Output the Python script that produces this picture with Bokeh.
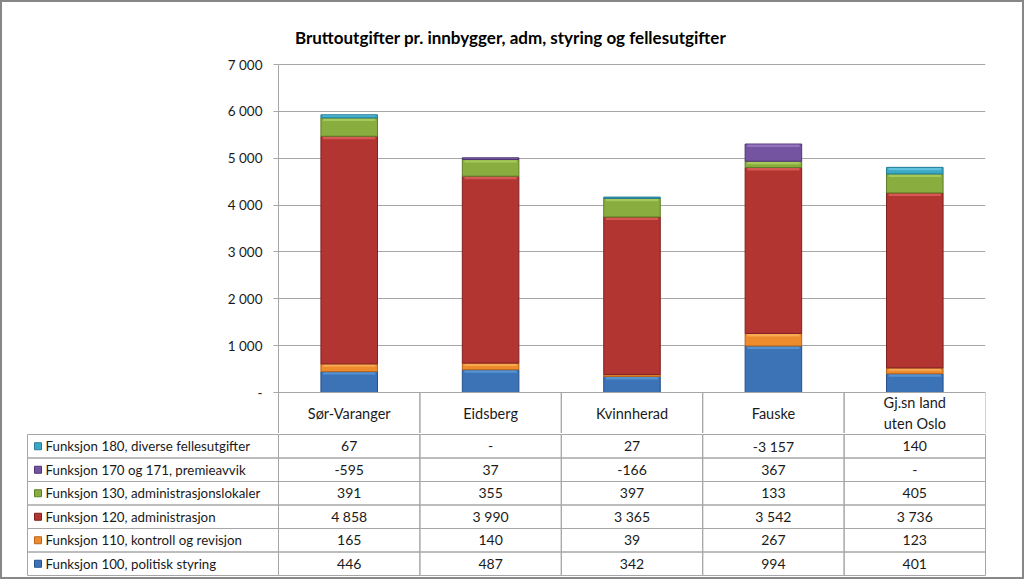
import numpy as np
from bokeh.plotting import figure
from bokeh.models import Range1d, FactorRange, FixedTicker, ColumnDataSource
from bokeh.transform import dodge
from bokeh.layouts import column
from bokeh.embed import file_html
from bokeh.resources import INLINE
from bokeh.core.properties import value

# ---------------- data ----------------
title = "Bruttoutgifter pr. innbygger, adm, styring og fellesutgifter"
categories = ["Sør-Varanger", "Eidsberg", "Kvinnherad", "Fauske", "Gj.sn land\nuten Oslo"]
series_names = [
    "Funksjon 100, politisk styring",
    "Funksjon 110, kontroll og revisjon",
    "Funksjon 120, administrasjon",
    "Funksjon 130, administrasjonslokaler",
    "Funksjon 170 og 171, premieavvik",
    "Funksjon 180, diverse fellesutgifter",
]
f100 = [446, 487, 342, 994, 401]
f110 = [165, 140, 39, 267, 123]
f120 = [4858, 3990, 3365, 3542, 3736]
f130 = [391, 355, 397, 133, 405]
f170 = [-595, 37, -166, 367, 0]
f180 = [67, 0, 27, -3157, 140]
y_ticks = [0, 1000, 2000, 3000, 4000, 5000, 6000, 7000]

all_series = [f100, f110, f120, f130, f170, f180]
fills = ["#3b73b6", "#ee8b2c", "#b23532", "#8aad3f", "#7453a0", "#3ba8c6"]
lights = ["#5b9ad8", "#f9b15c", "#e0605a", "#aed060", "#9a7cc4", "#6cc8e0"]
edges = ["#24508a", "#b8651a", "#7e2220", "#5f7d27", "#4f3573", "#247d96"]

FONT = "Lato"
GRID = "#a6a6a6"
TXT = "#1a1a1a"

# ---------------- layout (pixels) ----------------
W = 1020
A_H = 431
A_LEFT, A_RIGHT = 276, 37
TOP_PX = 62.0              # space above the 7 000 line
PLOT_PX = 328.0            # 0..7000
HDR_PX = 41.0
frame_w = W - A_LEFT - A_RIGHT
cat_px = frame_w / len(categories)
ppu = PLOT_PX / 7000.0
hdr = HDR_PX / ppu

# ---------------- chart ----------------
pA = figure(width=W, height=A_H,
            x_range=FactorRange(*categories, range_padding=0),
            y_range=Range1d(-hdr, 7000 + TOP_PX / ppu),
            output_backend="svg", toolbar_location=None,
            min_border_left=A_LEFT, min_border_right=A_RIGHT,
            min_border_top=0, min_border_bottom=0)
pA.frame_align = False
pA.xaxis.visible = False
pA.xgrid.visible = False
pA.outline_line_color = None
pA.background_fill_color = "white"
pA.border_fill_color = "white"

pA.ygrid.ticker = FixedTicker(ticks=y_ticks)
pA.ygrid.grid_line_color = GRID
pA.yaxis.ticker = FixedTicker(ticks=y_ticks)
pA.yaxis.bounds = (-hdr, 7000)
pA.yaxis.major_label_overrides = {t: ("-" if t == 0 else f"{t:,}".replace(",", " ")) for t in y_ticks}
pA.yaxis.axis_line_color = GRID
pA.yaxis.major_tick_line_color = GRID
pA.yaxis.major_tick_out = 5
pA.yaxis.major_tick_in = 0
pA.yaxis.minor_tick_line_color = None
pA.yaxis.major_label_standoff = 11
pA.yaxis.major_label_text_font = FONT
pA.yaxis.major_label_text_font_size = "13.5px"
pA.yaxis.major_label_text_color = TXT

# stacked bars (positives stack upward, negatives fall below axis minimum 0)
band = 3.0 / ppu
pos = np.zeros(len(categories))
for k, vals in enumerate(all_series):
    v = np.array(vals, dtype=float)
    bottoms = pos.copy()
    tops = pos + np.where(v > 0, v, 0)
    pos = tops
    keep = v > 0
    xs = [c for c, m in zip(categories, keep) if m]
    src = ColumnDataSource(dict(x=xs, bottom=bottoms[keep], top=tops[keep]))
    pA.vbar(x="x", bottom="bottom", top="top", width=0.4, source=src,
            fill_color=fills[k], line_color=edges[k], line_width=1)
    # bevel highlight along the top of each segment
    hb = np.maximum(tops[keep] - np.minimum(band, (tops[keep] - bottoms[keep]) * 0.5), bottoms[keep])
    hsrc = ColumnDataSource(dict(x=xs, bottom=hb, top=tops[keep] - 0.6 / ppu))
    pA.vbar(x="x", bottom="bottom", top="top", width=0.37, source=hsrc,
            fill_color=lights[k], fill_alpha=0.8, line_color=None)

# header row (category names)
pA.rect(x=categories, y=-hdr / 2, width=1, height=hdr,
        fill_color=None, line_color=GRID, line_width=1)
pA.text(x=categories, y=[-hdr / 2] * len(categories), text=categories,
        text_align="center", text_baseline="middle",
        text_font=value(FONT), text_font_size="14.5px", text_color=TXT)

# chart title
title_center = (508 - A_LEFT) / cat_px          # synthetic x of title centre
anchor = int(title_center)
tsrc = ColumnDataSource(dict(x=[categories[anchor]], y=[7000 + 27 / ppu], t=[title]))
pA.text(x=dodge("x", title_center - (anchor + 0.5), range=pA.x_range), y="y", text="t",
        source=tsrc, text_align="center", text_baseline="middle",
        text_font=value(FONT), text_font_size="17px", text_font_style="bold",
        text_color="#000000")

# ---------------- table ----------------
B_H = 144
B_LEFT, B_RIGHT = 24, 36
LBL_PX = 251.0
lbl = LBL_PX / cat_px
nrows = len(series_names)
row_px = (B_H - 3) / nrows
xpad = 1.0 / cat_px

pB = figure(width=W, height=B_H,
            x_range=Range1d(-lbl - xpad, len(categories) + xpad),
            y_range=Range1d(-2.0 / row_px, nrows + 1.0 / row_px),
            output_backend="svg", toolbar_location=None,
            x_axis_location=None, y_axis_location=None,
            min_border_left=B_LEFT, min_border_right=B_RIGHT,
            min_border_top=0, min_border_bottom=0)
pB.frame_align = False
pB.grid.visible = False
pB.outline_line_color = None
pB.background_fill_color = "white"
pB.border_fill_color = "white"

def fmt(v):
    if v == 0:
        return "-"
    return f"{v:,}".replace(",", " ")

cx, cy, ct = [], [], []
for j, vals in enumerate(all_series):
    for i, v in enumerate(vals):
        cx.append(i + 0.5)
        cy.append(j + 0.5)
        ct.append(fmt(v))
pB.rect(x=cx, y=cy, width=1, height=1, fill_color=None, line_color=GRID, line_width=1)
pB.text(x=cx, y=cy, text=ct, text_align="center", text_baseline="middle",
        text_font=value(FONT), text_font_size="14px", text_color=TXT)

ry = [j + 0.5 for j in range(nrows)]
pB.rect(x=[-lbl / 2] * nrows, y=ry, width=lbl, height=1,
        fill_color=None, line_color=GRID, line_width=1)
pB.scatter(x=[-lbl + 10.5 / cat_px] * nrows, y=ry, marker="square", size=7,
           fill_color=fills, line_color=edges)
pB.text(x=[-lbl + 18 / cat_px] * nrows, y=ry, text=series_names,
        text_align="left", text_baseline="middle",
        text_font=value(FONT), text_font_size="13.3px", text_color=TXT)

layout = column(pA, pB, styles={"border": "2px solid #878787"})

open("out.html", "w").write(file_html(layout, INLINE))
